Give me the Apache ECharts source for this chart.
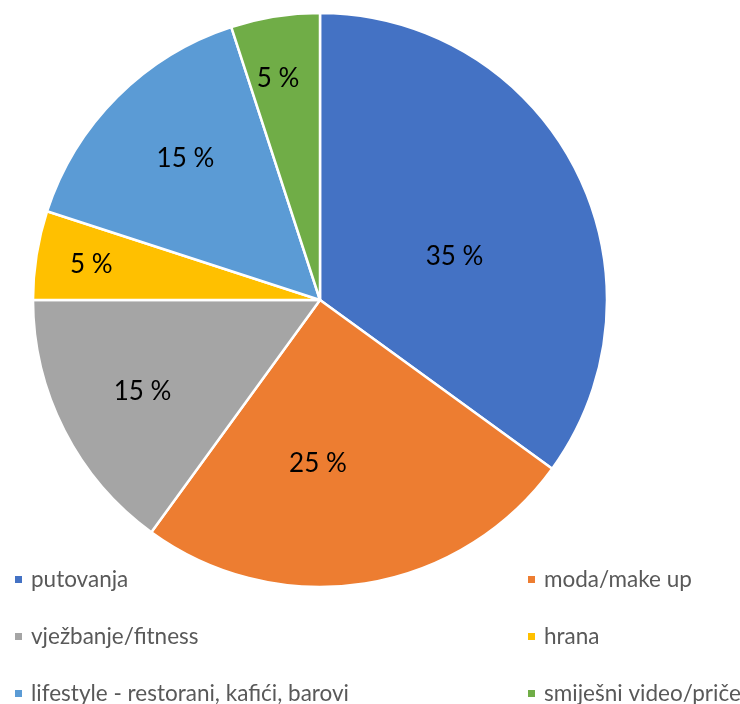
<!DOCTYPE html>
<html>
<head>
<meta charset="utf-8">
<script src="https://cdn.jsdelivr.net/npm/echarts@6/dist/echarts.min.js"></script>
<style>
  html, body { margin: 0; padding: 0; background: #fff; }
  #chart { width: 740px; height: 704px; }
</style>
</head>
<body>
<div id="chart"></div>
<script>
// kategorije i vrijednosti (%)
var categories = ['putovanja', 'moda/make up', 'vježbanje/fitness', 'hrana', 'lifestyle - restorani, kafići, barovi', 'smiješni video/priče'];
var values = [35, 25, 15, 5, 15, 5];
var colors = ['#4472C4', '#ED7D31', '#A5A5A5', '#FFC000', '#5B9BD5', '#70AD47'];
// pomak natpisa (kao "best fit" u Excelu)
var labelOffsets = [[4, 23], [-25, 19], [-47, 25], [-84, -12], [-31, -38], [-19, -77]];

var leftItems = [categories[0], categories[2], categories[4]];
var rightItems = [categories[1], categories[3], categories[5]];

var chart = echarts.init(document.getElementById('chart'));

var legendBase = {
  orient: 'vertical',
  top: 568,
  height: 200,
  padding: 0,
  itemWidth: 9,
  itemHeight: 9,
  itemGap: 34,
  icon: 'rect',
  textStyle: { color: '#595959', fontSize: 22.5, lineHeight: 22, fontFamily: 'Lato', padding: [0, 0, 0, 3] },
  selectedMode: false
};

chart.setOption({
  animation: false,
  color: colors,
  legend: [
    Object.assign({}, legendBase, { left: 13, data: leftItems }),
    Object.assign({}, legendBase, { left: 526, data: rightItems })
  ],
  series: [{
    type: 'pie',
    center: [320, 300],
    radius: [0, 287],
    startAngle: 90,
    clockwise: true,
    itemStyle: { borderColor: '#fff', borderWidth: 2.5 },
    label: {
      show: true,
      position: 'inside',
      formatter: '{c} %',
      color: '#000',
      fontSize: 26,
      fontFamily: 'Lato'
    },
    labelLine: { show: false },
    emphasis: { disabled: true },
    data: categories.map(function (name, i) {
      return { name: name, value: values[i], label: { offset: labelOffsets[i] } };
    })
  }]
});
</script>
</body>
</html>
